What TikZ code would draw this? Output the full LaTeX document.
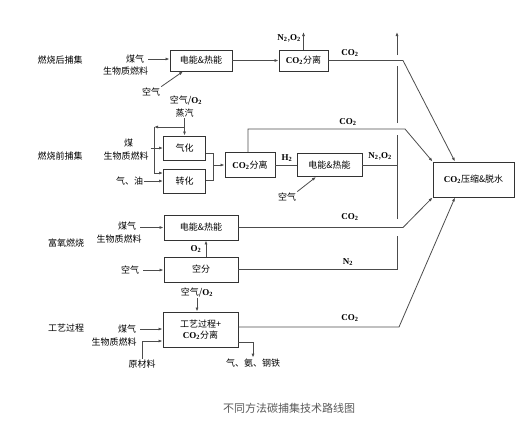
\documentclass[tikz,border=0pt]{standalone}
\usepackage{fontspec}
\setmainfont{Liberation Serif}
\newfontfamily\cjk{Noto Sans CJK SC}
\usetikzlibrary{arrows.meta}
\newcommand\cotwo{{\rmfamily\bfseries CO\textsubscript{2}}}
\newcommand\ntwo{{\rmfamily\bfseries N\textsubscript{2}}}
\newcommand\otwo{{\rmfamily\bfseries O\textsubscript{2}}}
\newcommand\htwo{{\rmfamily\bfseries H\textsubscript{2}}}
\tikzset{
  box/.style={draw=black!80, line width=0.9bp, inner sep=0pt, align=center},
  line/.style={draw=black!70, line width=0.8bp},
  arr/.style={line, -{Latex[length=4bp,width=3bp]}},
}

\begin{document}
\begin{tikzpicture}[x=1bp, y=-1bp, every node/.style={font=\cjk\fontsize{9bp}{11bp}\selectfont, text=black, inner sep=1bp}]
    \useasboundingbox (0,0) rectangle (531,423);
    % category
    \node (catA) at (60,60) {燃烧后捕集};
    \node (catB) at (60,156) {燃烧前捕集};
    \node (catC) at (66,243) {富氧燃烧};
    \node (catD) at (66,328) {工艺过程};

    % boxes
    \node[box, minimum width=62bp, minimum height=21bp] (ehA) at (201,60.5) {电能\&热能};
    \node[box, minimum width=49bp, minimum height=21bp] (sepA) at (303.5,60.5) {\cotwo 分离};
    \node[box, minimum width=42bp, minimum height=24bp] (gas) at (184.5,148) {气化};
    \node[box, minimum width=42bp, minimum height=24bp] (conv) at (184.5,181) {转化};
    \node[box, minimum width=50bp, minimum height=25bp] (sepB) at (250,165) {\cotwo 分离};
    \node[box, minimum width=65bp, minimum height=23bp] (ehB) at (329.5,165) {电能\&热能};
    \node[box, minimum width=81bp, minimum height=35bp] (comp) at (473.5,179.5) {\cotwo 压缩\&脱水};
    \node[box, minimum width=74bp, minimum height=25bp] (ehC) at (201,227.5) {电能\&热能};
    \node[box, minimum width=74bp, minimum height=25bp] (asu) at (201,269.5) {空分};
    \node[box, minimum width=75bp, minimum height=35bp] (proc) at (200.5,329.5) {工艺过程+\\\cotwo 分离};

    % inputs
    \node (coalA) at (135,59) {煤气};
    \node (bioA) at (125.5,71) {生物质燃料};
    \node (airA) at (151,92) {空气};
    \node (airO2B) at (186,100) {空气/\otwo};
    \node (steam) at (184.5,113) {蒸汽};
    \node (coalB) at (128.5,143) {煤};
    \node (bioB) at (126,156) {生物质燃料};
    \node (oilB) at (129.5,181) {气、油};
    \node (airB) at (287,197) {空气};
    \node (coalC) at (127,226) {煤气};
    \node (bioC) at (119,239) {生物质燃料};
    \node (airC) at (130,270) {空气};
    \node (airO2D) at (197,292) {空气/\otwo};
    \node (coalD) at (127,329) {煤气};
    \node (bioD) at (114,342) {生物质燃料};
    \node (rawD) at (142,364) {原材料};
    \node (prodD) at (253,363) {气、氨、钢铁};

    % stream labels
    \node (nxA) at (289,38) {\ntwo,\otwo};
    \node (coA) at (350,53) {\cotwo};
    \node (coB) at (348,122) {\cotwo};
    \node (hB) at (287,158) {\htwo};
    \node (nxB) at (380,156) {\ntwo,\otwo};
    \node (oC) at (196,249) {\otwo};
    \node (coC) at (350,217) {\cotwo};
    \node (nC) at (348,262) {\ntwo};
    \node (coD) at (350,318) {\cotwo};

    % points
    \coordinate (topA) at (303.5,32);
    \coordinate (vtop) at (397,32);
    \coordinate (v1) at (397,55);
    \coordinate (v2) at (397,66);
    \coordinate (v3) at (397,123);
    \coordinate (v4) at (397,135);
    \coordinate (v5) at (397,219);
    \coordinate (v6) at (397,236);
    \coordinate (vbot) at (397,269.5);
    \coordinate (splitB) at (184.5,127);
    \coordinate (cornerB) at (154,127);
    \coordinate (joinB) at (213,165);
    \coordinate (bendA) at (403,60.5);
    \coordinate (bendB) at (405,129);
    \coordinate (bendC) at (403,227.5);
    \coordinate (bendD) at (399,327);

    % post combustion
    \draw[arr] ([xshift=3bp]coalA.east) -- (coalA.east -| ehA.west);
    \draw[arr] (airA.north east) -- ([xshift=-18bp]ehA.south);
    \draw[arr] (ehA) -- (sepA);
    \draw[arr] (sepA.north) -- (topA);
    \draw[arr] (sepA.east) -- (bendA) -- ([xshift=-18.5bp]comp.north);

    % pre combustion
    \draw[arr] (steam.south) -- (gas.north);
    \draw[arr] (splitB) -- (cornerB);
    \draw[arr] (cornerB) |- ([yshift=8bp]conv.west);
    \draw[arr] ([xshift=1bp]bioB.east |- gas.west) -- (gas.west);
    \draw[arr] (oilB.east) -- (oilB.east -| conv.west);
    \draw[line] ([yshift=-5bp]gas.east) -| (joinB);
    \draw[line] ([yshift=1bp]conv.east) -| (joinB);
    \draw[arr] (joinB) -- (sepB.west);
    \draw[line] (sepB) -- (ehB);
    \draw[arr] (airB.north east) -- ([xshift=-13.5bp]ehB.south);
    \draw[line] (ehB.east) -- (ehB.east -| v2);
    \draw[arr] ([xshift=-2bp]sepB.north) |- (bendB) -- (comp.north west);

    % oxy fuel
    \draw[arr] ([xshift=3bp]coalC.east |- ehC.west) -- (ehC.west);
    \draw[arr] ([xshift=5bp]asu.north) -- ([xshift=5bp]ehC.south);
    \draw[arr] ([xshift=3bp]airC.east) -- (airC.east -| asu.west);
    \draw[arr] (ehC.east) -- (bendC) -- (comp.south west);
    \draw[line] (asu.east) -- (vbot);

    % vent
    \draw[line] (vbot) -- (v6);
    \draw[line] (v5) -- (v4);
    \draw[line] (v3) -- (v2);
    \draw[arr] (v1) -- (vtop);

    % industry
    \draw[arr] (airO2D.south) -- (airO2D.south |- proc.north);
    \draw[arr] ([xshift=3bp]coalD.east) -- (coalD.east -| proc.west);
    \draw[arr] (rawD.north) |- ([yshift=-11.5bp]proc.west);
    \draw[arr] ([yshift=-12.5bp]proc.east) -| (prodD.north);
    \draw[arr] ([yshift=2.5bp]proc.east) -- (bendD) -- ([xshift=-18.5bp]comp.south);

    % caption
    \node[font=\cjk\fontsize{11bp}{13bp}\selectfont, text=black!65] (title) at (289,408) {不同方法碳捕集技术路线图};
\end{tikzpicture}
\end{document}
